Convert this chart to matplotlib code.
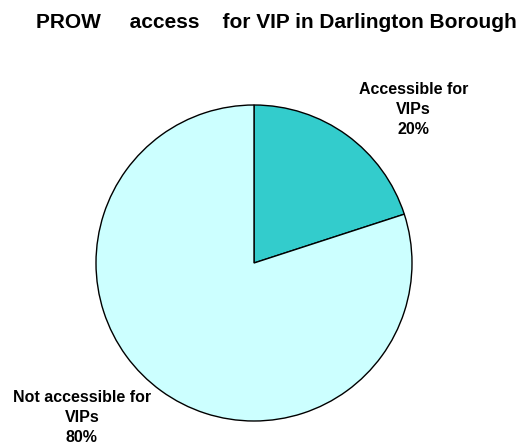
import matplotlib
matplotlib.use("Agg")
import matplotlib.pyplot as plt

plt.rcParams["font.family"] = ["Liberation Sans", "DejaVu Sans"]

labels = ["Accessible for\nVIPs", "Not accessible for\nVIPs"]
values = [20, 80]
colors = ["#33CCCC", "#CCFFFF"]
title = "PROW     access    for VIP in Darlington Borough"

fig = plt.figure(figsize=(5.24, 4.48), dpi=100)
ax = fig.add_axes([96 / 524, 27 / 448, 316 / 524, 316 / 448])

wedges, _ = ax.pie(
    values,
    colors=colors,
    startangle=90,
    counterclock=False,
    radius=1.0,
    wedgeprops=dict(edgecolor="black", linewidth=1.0),
)
ax.set_xlim(-1, 1)
ax.set_ylim(-1, 1)
ax.set_aspect("equal")

# label positions picked by eye from the reference
label_pos = [(1.01, 0.97), (-1.09, -0.98)]
for lab, val, (x, y) in zip(labels, values, label_pos):
    ax.text(x, y, f"{lab}\n{val}%", ha="center", va="center",
            fontsize=11.5, fontweight="bold", linespacing=1.42, clip_on=False)

fig.text(276 / 524, 1 - 23 / 448, title, ha="center", va="center",
         fontsize=15, fontweight="bold")

fig.savefig("out.png", dpi=100)
